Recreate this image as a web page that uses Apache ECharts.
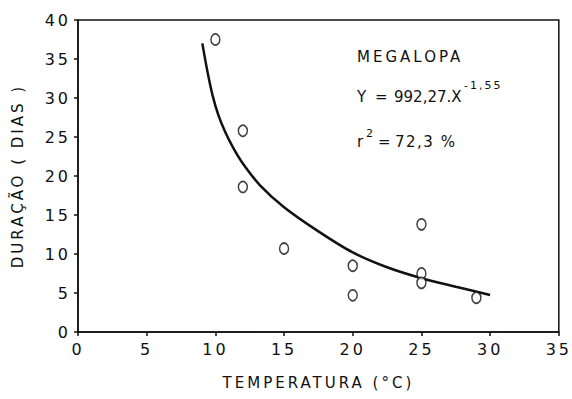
<!DOCTYPE html>
<html>
<head>
<meta charset="utf-8">
<script src="https://cdn.jsdelivr.net/npm/echarts@6/dist/echarts.min.js"></script>
<style>
  html, body { margin: 0; padding: 0; background: #fff; }
  #chart { width: 572px; height: 399px; }
  /* the original lettering is widely spaced */
  #chart svg text { letter-spacing: 3px; }
</style>
</head>
<body>
<div id="chart"></div>
<script>
/* observed points: temperature (°C) vs duration (days) */
const TEMP = [10, 12, 12, 15, 20, 20, 25, 25, 25, 29]
const DAYS = [37.5, 25.8, 18.6, 10.7, 8.5, 4.7, 13.8, 7.5, 6.3, 4.4]

/* fitted curve */
const CURVE_X = [9.05, 9.4, 9.8, 10.2, 10.7, 11.3, 12, 13.25, 15, 17.5, 20, 22.5, 25, 27.5, 30]
const CURVE_Y = [37.0, 33.6, 30.3, 27.9, 25.7, 23.6, 21.6, 18.8, 16.0, 12.9, 10.2, 8.3, 6.9, 5.8, 4.75]

const X_TICKS = { min: 0, max: 35, step: 5 }
const Y_TICKS = { min: 0, max: 40, step: 5 }

const FONT = '"DejaVu Sans", sans-serif'
const INK = '#111'

/* tighter spacing for the numeric parts of the note */
const TIGHT = { '992,27.X': '0px', '72,3 %': '1.5px', '-1,55': '2px', 'Y': '0px', 'r': '0px', '=': '0px', '2': '0px' }

const chart = echarts.init(document.getElementById('chart'), null, { renderer: 'svg' })

const axisCommon = {
  axisLine: { show: true, lineStyle: { color: INK, width: 1.5 } },
  axisTick: { show: true, inside: false, length: 4, lineStyle: { color: INK, width: 1.5 } },
  splitLine: { show: false },
  axisLabel: { color: INK, fontFamily: FONT, fontSize: 16 },
  nameTextStyle: { color: INK, fontFamily: FONT, fontSize: 15 }
}

function note (text, left, top, size) {
  return { type: 'text', left: left, top: top, style: { text: text, fill: INK, font: size + 'px ' + FONT } }
}

chart.setOption({
  animation: false,
  grid: {
    left: 78, right: 13, top: 20, bottom: 67,
    show: true, borderColor: INK, borderWidth: 1.5, backgroundColor: 'transparent'
  },
  xAxis: Object.assign({}, axisCommon, {
    type: 'value',
    min: X_TICKS.min, max: X_TICKS.max, interval: X_TICKS.step,
    name: 'TEMPERATURA (°C)',
    nameLocation: 'middle',
    nameGap: 43,
    axisLabel: Object.assign({}, axisCommon.axisLabel, { margin: 9 })
  }),
  yAxis: Object.assign({}, axisCommon, {
    type: 'value',
    min: Y_TICKS.min, max: Y_TICKS.max, interval: Y_TICKS.step,
    name: 'DURAÇÃO ( DIAS )',
    nameLocation: 'middle',
    nameGap: 53,
    axisLabel: Object.assign({}, axisCommon.axisLabel, { margin: 7 })
  }),
  graphic: [
    note('MEGALOPA', 357, 49, 15),
    note('Y', 357, 89, 15),
    note('=', 375, 89, 15),
    note('992,27.X', 394, 89, 15),
    note('-1,55', 464, 80, 11),
    note('r', 357, 134, 15),
    note('2', 366, 128, 11),
    note('=', 378, 134, 15),
    note('72,3 %', 395, 134, 15)
  ],
  series: [
    {
      type: 'line',
      data: CURVE_X.map((x, i) => [x, CURVE_Y[i]]),
      smooth: 0.3,
      showSymbol: false,
      lineStyle: { color: INK, width: 2.5 },
      z: 2
    },
    {
      type: 'scatter',
      data: TEMP.map((t, i) => [t, DAYS[i]]),
      symbol: 'circle',
      symbolSize: [9, 11],
      itemStyle: { color: '#fff', borderColor: INK, borderWidth: 1.6 },
      z: 3
    }
  ]
})

function tightenNote () {
  document.querySelectorAll('#chart svg text').forEach(t => {
    const key = t.textContent.trim()
    if (key in TIGHT) t.style.letterSpacing = TIGHT[key]
  })
}
chart.on('finished', tightenNote)
setTimeout(tightenNote, 50)
</script>
</body>
</html>
